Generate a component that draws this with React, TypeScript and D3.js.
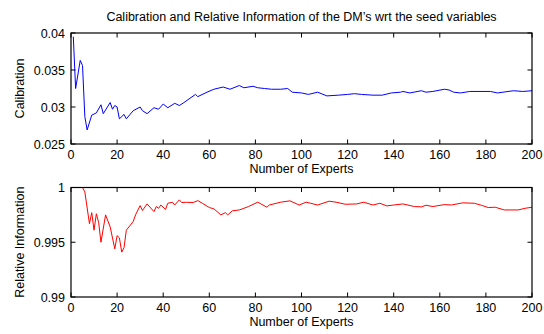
import React from "react";
import * as d3 from "d3";

// Calibration score of the DM against the number of experts pooled
const calExperts = [1, 2, 4, 5, 6, 7, 9, 11, 13, 14, 17, 18, 19, 20, 21, 23, 24, 27, 30, 31, 33, 36, 38, 40, 42, 45, 47, 49, 54, 55, 59, 62, 66, 69, 73, 75, 79, 81, 84, 87, 91, 94, 96, 100, 103, 107, 111, 116, 120, 123, 126, 131, 135, 139, 143, 144, 147, 152, 154, 157, 162, 164, 166, 169, 173, 182, 185, 192, 196, 200];
const calValues = [0.0395, 0.0325, 0.0363, 0.0356, 0.0287, 0.0269, 0.0289, 0.0292, 0.0303, 0.0291, 0.0306, 0.0297, 0.0302, 0.03, 0.0284, 0.029, 0.0284, 0.0295, 0.03, 0.0295, 0.0291, 0.0299, 0.0297, 0.0304, 0.0299, 0.0305, 0.0302, 0.0306, 0.0317, 0.0314, 0.032, 0.0324, 0.0327, 0.0324, 0.0329, 0.0326, 0.0328, 0.0326, 0.0325, 0.0324, 0.0324, 0.0325, 0.032, 0.0319, 0.0317, 0.032, 0.0315, 0.0316, 0.0317, 0.0318, 0.0317, 0.0316, 0.0316, 0.0319, 0.032, 0.0321, 0.0319, 0.0322, 0.032, 0.0321, 0.0324, 0.0323, 0.032, 0.0319, 0.0321, 0.0321, 0.0319, 0.0322, 0.0321, 0.0322];

// Relative information of the DM against the number of experts pooled
const infoExperts = [0, 5, 6, 8, 9, 10, 11, 12, 13, 15, 17, 19, 20, 21, 22, 23, 24, 27, 28, 30, 31, 33, 36, 37, 38, 39, 41, 42, 44, 45, 47, 48, 50, 53, 55, 57, 60, 62, 65, 67, 68, 70, 73, 75, 77, 81, 85, 86, 91, 95, 99, 102, 104, 107, 112, 115, 119, 124, 127, 131, 134, 137, 140, 144, 149, 152, 154, 157, 162, 165, 170, 175, 178, 181, 184, 188, 194, 197, 200];
const infoValues = [1.0, 1.0, 0.9996, 0.9967, 0.9977, 0.9961, 0.9976, 0.9968, 0.995, 0.9975, 0.9964, 0.9944, 0.9956, 0.9954, 0.9941, 0.9945, 0.9961, 0.9969, 0.9975, 0.99835, 0.9979, 0.9985, 0.9978, 0.99826, 0.9981, 0.9984, 0.998, 0.99856, 0.99865, 0.9984, 0.99887, 0.99863, 0.99865, 0.99863, 0.9988, 0.99856, 0.99817, 0.99805, 0.9975, 0.9977, 0.9975, 0.99787, 0.99795, 0.9981, 0.99826, 0.99866, 0.9982, 0.9984, 0.99866, 0.99878, 0.9984, 0.99866, 0.99856, 0.9984, 0.99875, 0.99866, 0.99847, 0.9985, 0.99866, 0.9984, 0.99856, 0.99832, 0.9984, 0.9985, 0.99826, 0.99823, 0.99838, 0.99826, 0.99844, 0.9984, 0.9986, 0.99856, 0.99838, 0.99817, 0.9982, 0.99795, 0.99795, 0.9981, 0.9982];

const xTicks = [0, 20, 40, 60, 80, 100, 120, 140, 160, 180, 200];
const calTicks = [0.025, 0.03, 0.035, 0.04];
const calTickLabels = ["0.025", "0.03", "0.035", "0.04"];
const infoTicks = [0.99, 0.995, 1];
const infoTickLabels = ["0.99", "0.995", "1"];

const titleText = "Calibration and Relative Information of the DM\u2019s wrt the seed variables";
const xLabel = "Number of Experts";

const W = 544;
const H = 334;
const FONT = "'Liberation Sans', Arial, Helvetica, sans-serif";
const FS = 12.5;

type PanelProps = {
  top: number;
  bottom: number;
  xs: number[];
  ys: number[];
  yDomain: [number, number];
  yTicks: number[];
  yTickLabels: string[];
  yLabel: string;
  color: string;
};

const left = 71;
const right = 532;
const tickLen = 4.5;

function Panel({ top, bottom, xs, ys, yDomain, yTicks, yTickLabels, yLabel, color }: PanelProps) {
  const x = d3.scaleLinear().domain([0, 200]).range([left, right]);
  const y = d3.scaleLinear().domain(yDomain).range([bottom, top]);
  const pts: [number, number][] = xs.map((v, i) => [v, ys[i]]);
  const line = d3
    .line<[number, number]>()
    .x((d) => x(d[0]))
    .y((d) => y(d[1]));

  return (
    <g>
      <path d={line(pts) || ""} fill="none" stroke={color} strokeWidth={1} />
      <rect x={left} y={top} width={right - left} height={bottom - top} fill="none" stroke="#000" strokeWidth={1.2} />
      {xTicks.map((t) => (
        <g key={"x" + t}>
          <line x1={x(t)} x2={x(t)} y1={bottom} y2={bottom - tickLen} stroke="#000" strokeWidth={1} />
          <line x1={x(t)} x2={x(t)} y1={top} y2={top + tickLen} stroke="#000" strokeWidth={1} />
          <text x={x(t)} y={bottom + 15} textAnchor="middle" fontSize={FS} fontFamily={FONT} fill="#000">
            {t}
          </text>
        </g>
      ))}
      {yTicks.map((t, i) => (
        <g key={"y" + t}>
          <line x1={left} x2={left + tickLen} y1={y(t)} y2={y(t)} stroke="#000" strokeWidth={1} />
          <line x1={right} x2={right - tickLen} y1={y(t)} y2={y(t)} stroke="#000" strokeWidth={1} />
          <text x={left - 6} y={y(t) + 4.5} textAnchor="end" fontSize={FS} fontFamily={FONT} fill="#000">
            {yTickLabels[i]}
          </text>
        </g>
      ))}
      <text x={(left + right) / 2} y={bottom + 29} textAnchor="middle" fontSize={FS} fontFamily={FONT} fill="#000">
        {xLabel}
      </text>
      <text
        transform={`translate(24,${(top + bottom) / 2}) rotate(-90)`}
        textAnchor="middle"
        fontSize={FS}
        fontFamily={FONT}
        fill="#000"
      >
        {yLabel}
      </text>
    </g>
  );
}

export default function App() {
  return (
    <svg width={W} height={H} style={{ position: "absolute", left: 0, top: 0, background: "#fff" }}>
      <rect x={0} y={0} width={W} height={H} fill="#fff" />
      <text x={(left + right) / 2} y={21} textAnchor="middle" fontSize={FS} fontFamily={FONT} fill="#000">
        {titleText}
      </text>
      <Panel
        top={33}
        bottom={144}
        xs={calExperts}
        ys={calValues}
        yDomain={[0.025, 0.04]}
        yTicks={calTicks}
        yTickLabels={calTickLabels}
        yLabel="Calibration"
        color="#0000ff"
      />
      <Panel
        top={187.5}
        bottom={297}
        xs={infoExperts}
        ys={infoValues}
        yDomain={[0.99, 1]}
        yTicks={infoTicks}
        yTickLabels={infoTickLabels}
        yLabel="Relative Information"
        color="#ff0000"
      />
    </svg>
  );
}
